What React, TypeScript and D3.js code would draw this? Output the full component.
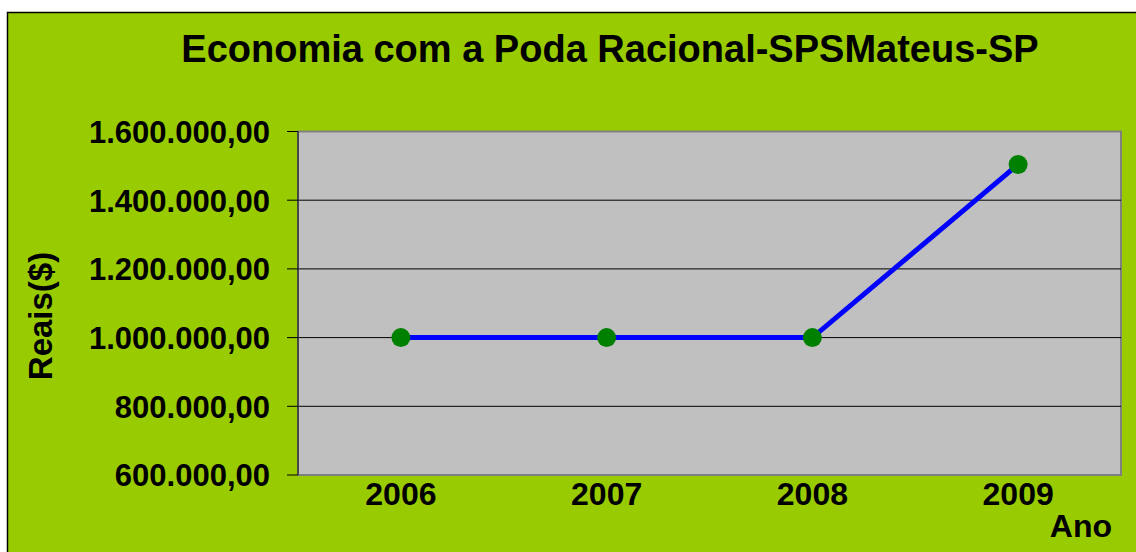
import { useEffect, useRef } from "react"
import * as d3 from "d3"

const years = ["2006", "2007", "2008", "2009"]
const savings = [1000000, 1000000, 1000000, 1504000]
const yTicks = [600000, 800000, 1000000, 1200000, 1400000, 1600000]

const title = "Economia com a Poda Racional-SPSMateus-SP"
const yTitle = "Reais($)"
const xTitle = "Ano"

const fmt = (v: number) => {
  const s = d3.format(",.2f")(v)
  return s.replace(/,/g, "#").replace(".", ",").replace(/#/g, ".")
}

export default function App() {
  const svgRef = useRef<SVGSVGElement>(null)

  useEffect(() => {
    if (!svgRef.current) return
    const width = 1136
    const height = 552
    const svg = d3.select(svgRef.current)
    svg.selectAll("*").remove()
    svg.attr("width", width).attr("height", height)

    const font = "'Liberation Sans', Arial, sans-serif"

    // chart background
    svg
      .append("rect")
      .attr("x", 7.5)
      .attr("y", 12.5)
      .attr("width", width)
      .attr("height", height)
      .attr("fill", "#99cc00")
      .attr("stroke", "#000")
      .attr("stroke-width", 1.5)

    const plot = { left: 298, top: 131.5, right: 1121, bottom: 475 }

    const x = d3.scaleBand().domain(years).range([plot.left, plot.right])
    const y = d3.scaleLinear().domain([600000, 1600000]).range([plot.bottom, plot.top])

    svg
      .append("rect")
      .attr("x", plot.left)
      .attr("y", plot.top)
      .attr("width", plot.right - plot.left)
      .attr("height", plot.bottom - plot.top)
      .attr("fill", "#c0c0c0")
      .attr("stroke", "#808080")
      .attr("stroke-width", 2)

    // gridlines
    svg
      .append("g")
      .selectAll("line")
      .data(yTicks.slice(1, -1))
      .join("line")
      .attr("x1", plot.left)
      .attr("x2", plot.right)
      .attr("y1", (d) => y(d))
      .attr("y2", (d) => y(d))
      .attr("stroke", "#000")
      .attr("stroke-width", 1)

    // left axis line + ticks
    svg
      .append("line")
      .attr("x1", plot.left)
      .attr("x2", plot.left)
      .attr("y1", plot.top)
      .attr("y2", plot.bottom)
      .attr("stroke", "#333")
      .attr("stroke-width", 1.5)

    const yAxis = svg.append("g")
    yAxis
      .selectAll("line")
      .data(yTicks)
      .join("line")
      .attr("x1", plot.left - 11)
      .attr("x2", plot.left)
      .attr("y1", (d) => y(d))
      .attr("y2", (d) => y(d))
      .attr("stroke", "#000")
      .attr("stroke-width", 1)

    yAxis
      .selectAll("text")
      .data(yTicks)
      .join("text")
      .attr("x", 270)
      .attr("y", (d) => y(d))
      .attr("dy", "0.37em")
      .attr("text-anchor", "end")
      .attr("font-family", font)
      .attr("font-weight", "bold")
      .attr("font-size", 31)
      .text((d) => fmt(d))

    // x labels
    svg
      .append("g")
      .selectAll("text")
      .data(years)
      .join("text")
      .attr("x", (d) => (x(d) as number) + x.bandwidth() / 2)
      .attr("y", 505)
      .attr("text-anchor", "middle")
      .attr("font-family", font)
      .attr("font-weight", "bold")
      .attr("font-size", 32)
      .text((d) => d)

    // line
    const line = d3
      .line<number>()
      .x((_, i) => (x(years[i]) as number) + x.bandwidth() / 2)
      .y((d) => y(d))

    svg
      .append("path")
      .datum(savings)
      .attr("fill", "none")
      .attr("stroke", "#0000ff")
      .attr("stroke-width", 5)
      .attr("d", line)

    svg
      .append("g")
      .selectAll("circle")
      .data(savings)
      .join("circle")
      .attr("cx", (_, i) => (x(years[i]) as number) + x.bandwidth() / 2)
      .attr("cy", (d) => y(d))
      .attr("r", 9.5)
      .attr("fill", "#008000")

    // titles
    svg
      .append("text")
      .attr("x", 610)
      .attr("y", 62)
      .attr("text-anchor", "middle")
      .attr("font-family", font)
      .attr("font-weight", "bold")
      .attr("font-size", 38)
      .text(title)

    svg
      .append("text")
      .attr("transform", "translate(52,316) rotate(-90)")
      .attr("text-anchor", "middle")
      .attr("font-family", font)
      .attr("font-weight", "bold")
      .attr("font-size", 33)
      .text(yTitle)

    svg
      .append("text")
      .attr("x", 1112)
      .attr("y", 537)
      .attr("text-anchor", "end")
      .attr("font-family", font)
      .attr("font-weight", "bold")
      .attr("font-size", 32)
      .text(xTitle)
  }, [])

  return (
    <svg
      ref={svgRef}
      style={{ position: "absolute", left: 0, top: 0, display: "block" }}
    ></svg>
  )
}
